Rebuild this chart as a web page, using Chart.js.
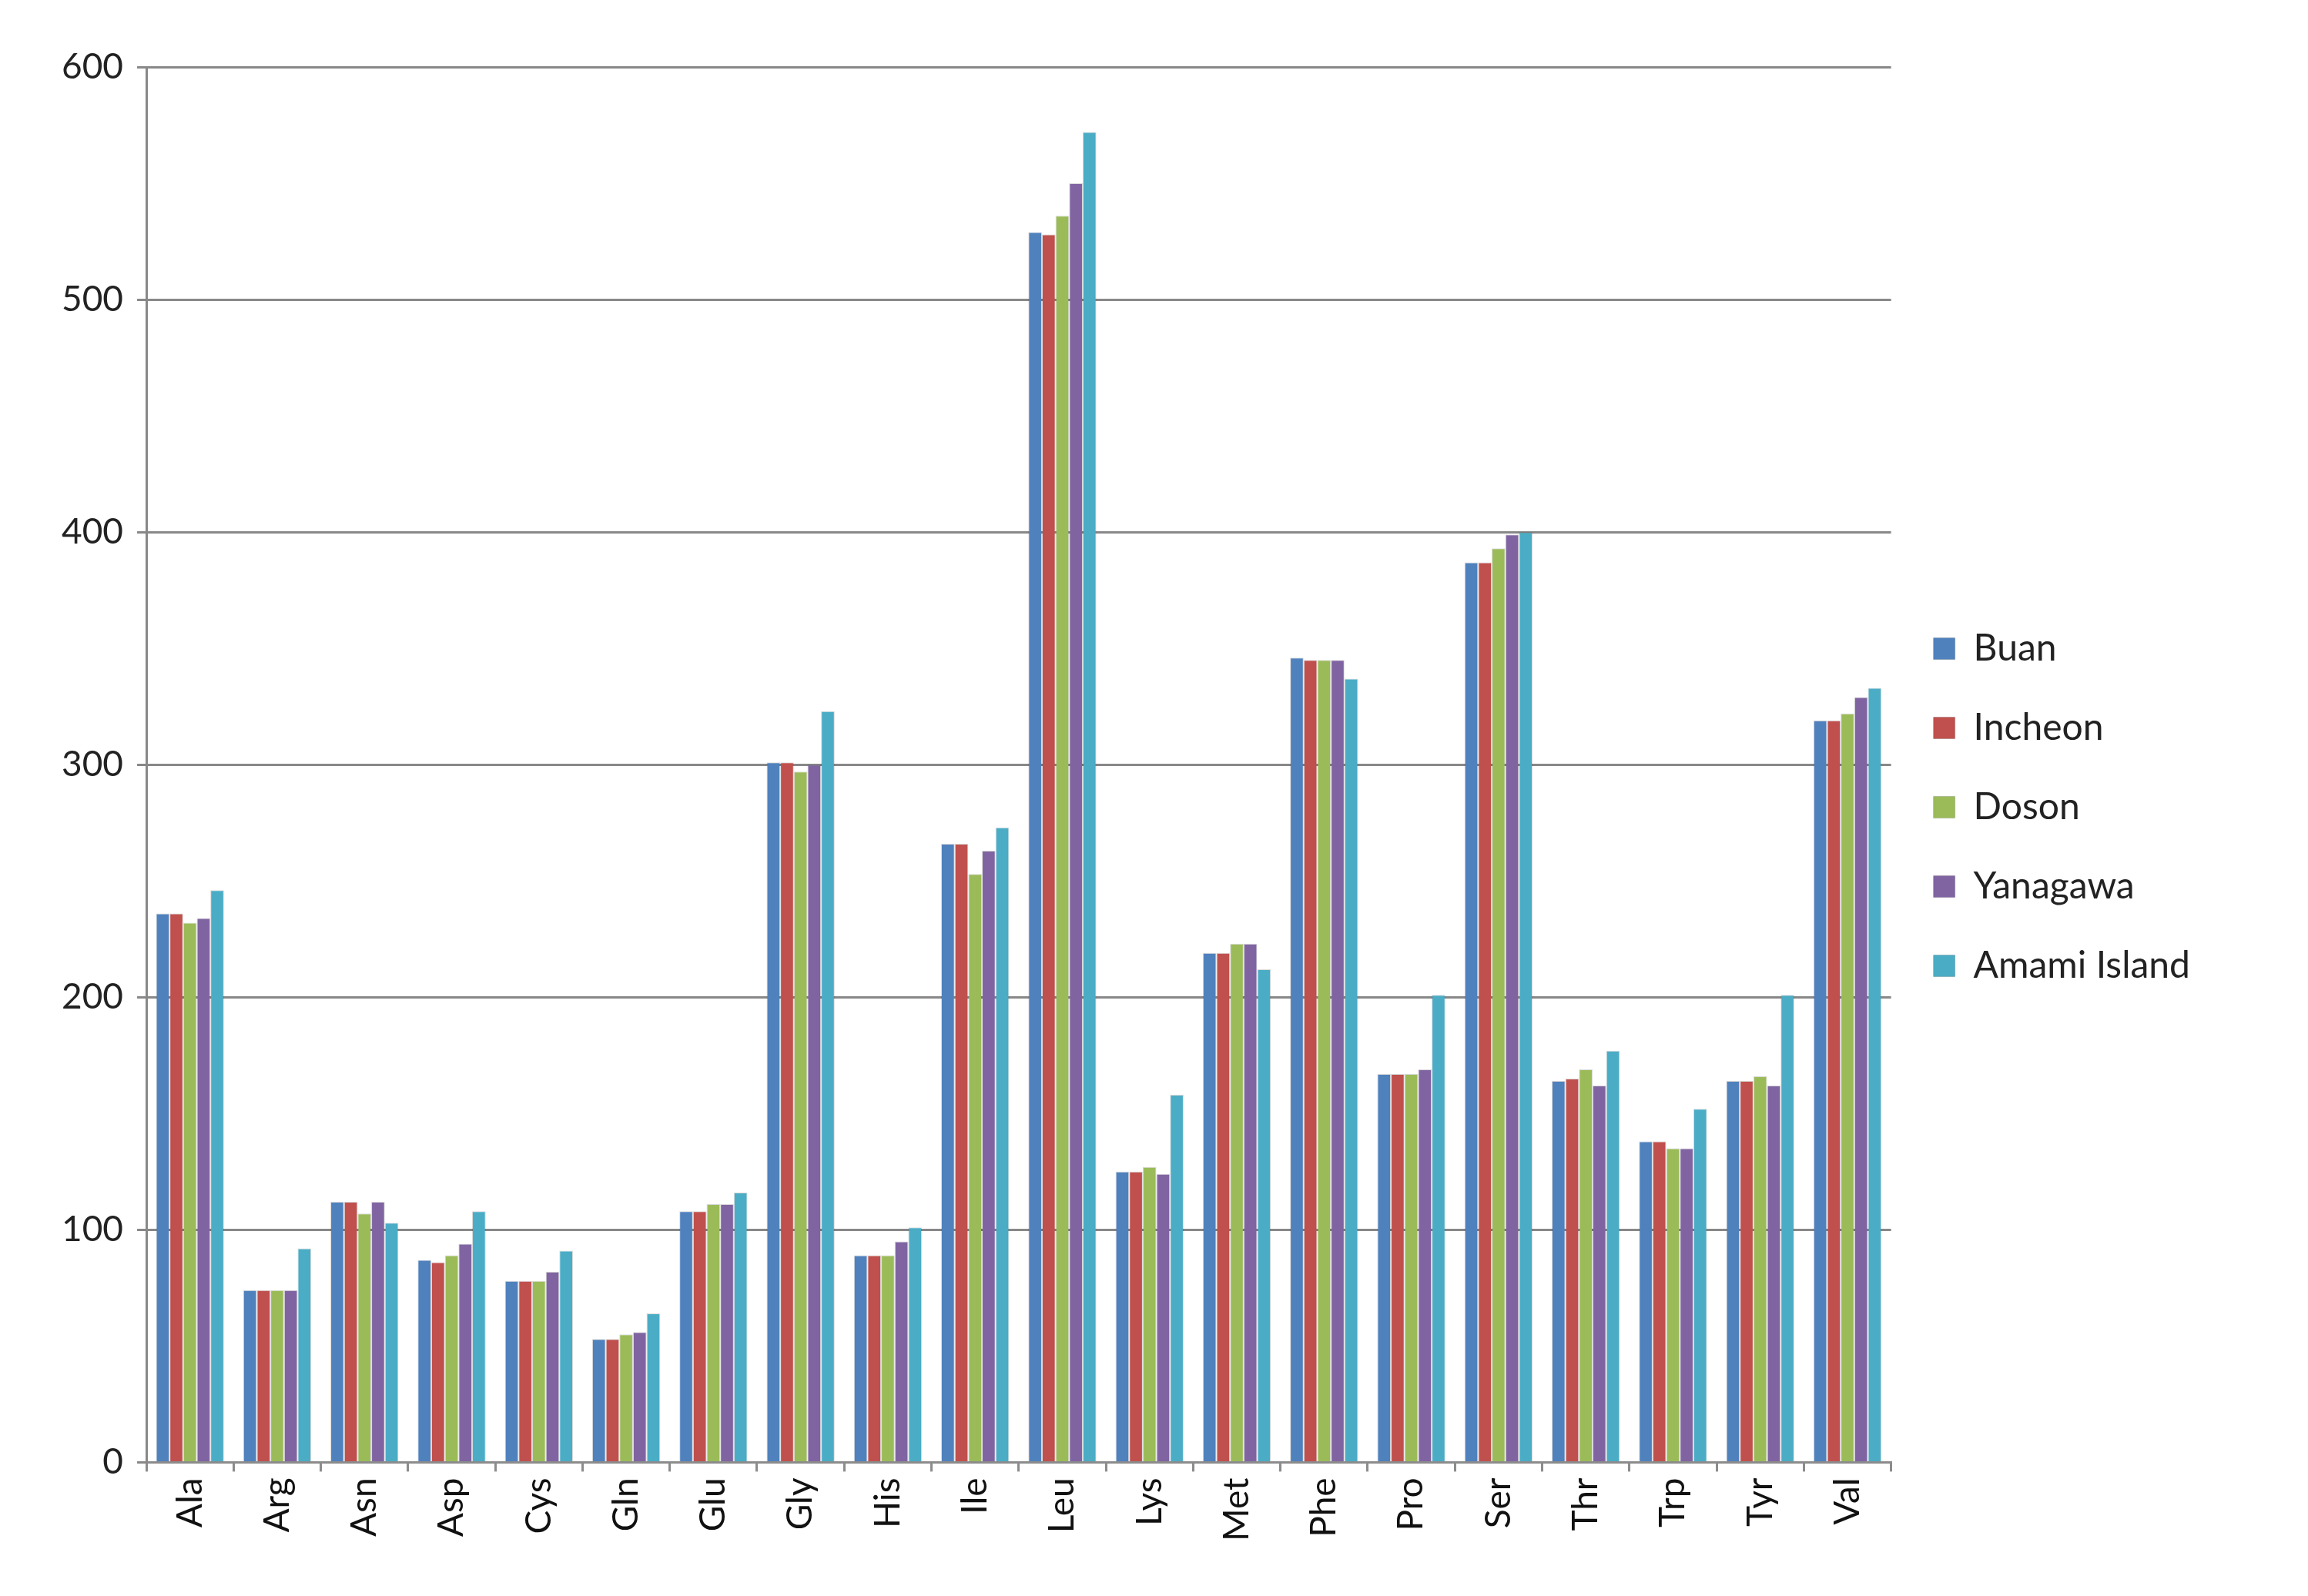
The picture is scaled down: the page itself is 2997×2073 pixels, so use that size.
<!DOCTYPE html>
<html><head><meta charset="utf-8">
<script src="https://cdn.jsdelivr.net/npm/chart.js@4/dist/chart.umd.min.js"></script>
<style>html,body{margin:0;padding:0;background:#fff}#w{width:2997px;height:2073px}</style>
</head><body><div id="w"><canvas id="c"></canvas></div>
<script>
const categories=["Ala","Arg","Asn","Asp","Cys","Gln","Glu","Gly","His","Ile","Leu","Lys","Met","Phe","Pro","Ser","Thr","Trp","Tyr","Val"];
const buan=[236,74,112,87,78,53,108,301,89,266,529,125,219,346,167,387,164,138,164,319];
const incheon=[236,74,112,86,78,53,108,301,89,266,528,125,219,345,167,387,165,138,164,319];
const doson=[232,74,107,89,78,55,111,297,89,253,536,127,223,345,167,393,169,135,166,322];
const yanagawa=[234,74,112,94,82,56,111,300,95,263,550,124,223,345,169,399,162,135,162,329];
const amami=[246,92,103,108,91,64,116,323,101,273,572,158,212,337,201,400,177,152,201,333];
const yTicks=[0,100,200,300,400,500,600];
const F="Lato, 'Open Sans', sans-serif";
const mk=(l,d,c)=>({label:l,data:d,backgroundColor:c,borderColor:'rgba(0,0,0,0.15)',borderWidth:1,categoryPercentage:0.78,barPercentage:1});
const widenLegend={id:'widenLegend',afterInit(chart){const lg=chart.legend;const orig=lg.fit;lg.fit=function(){orig.call(this);this.width+=133;};}};
new Chart(document.getElementById('c'),{type:'bar',
data:{labels:categories,datasets:[mk('Buan',buan,'#4F81BD'),mk('Incheon',incheon,'#C0504D'),mk('Doson',doson,'#9BBB59'),mk('Yanagawa',yanagawa,'#8064A2'),mk('Amami Island',amami,'#4BACC6')]},
plugins:[widenLegend],
options:{responsive:true,maintainAspectRatio:false,animation:false,
layout:{padding:{left:62,top:87,right:10,bottom:63}},
plugins:{legend:{position:'right',labels:{font:{family:F,size:48},color:'#222',boxWidth:28,boxHeight:28,padding:55}},tooltip:{enabled:false}},
scales:{
x:{grid:{display:true,drawOnChartArea:false,color:'#8c8c8c',lineWidth:3,tickLength:12},border:{color:'#8c8c8c',width:3},
ticks:{font:{family:F,size:46},color:'#111',minRotation:90,maxRotation:90,padding:8}},
y:{min:0,max:600,afterBuildTicks:a=>{a.ticks=yTicks.map(v=>({value:v}));},
grid:{color:'#888',lineWidth:3,tickLength:12},border:{color:'#888',width:3},
ticks:{font:{family:F,size:46},color:'#222',padding:18}}}}});
</script></body></html>
